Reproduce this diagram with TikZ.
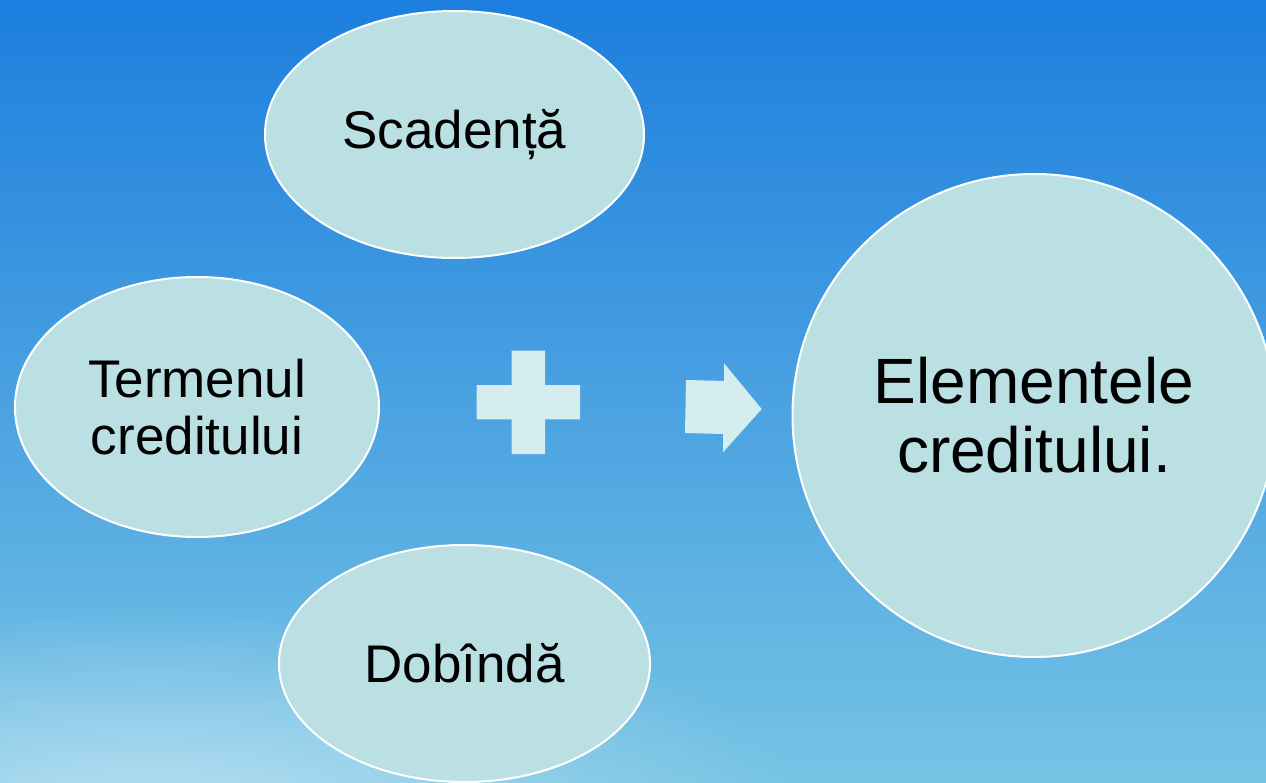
\documentclass[tikz,border=0pt]{standalone}
\usepackage{fontspec}
\setmainfont{Liberation Sans}
\usetikzlibrary{shapes.geometric,fadings}

\definecolor{bubble}{RGB}{186,224,227}
\definecolor{signfill}{RGB}{214,237,239}
\definecolor{skytop}{RGB}{28,126,222}
\definecolor{skymid}{RGB}{58,156,220}
\definecolor{skybottom}{RGB}{118,196,228}
\tikzfading[name=haze, inner color=transparent!0, outer color=transparent!100]

\begin{document}
\begin{tikzpicture}[x=1pt,y=-1pt]
	\useasboundingbox (0,0) rectangle (1266,783);
	\shade[top color=skytop, middle color=skymid, bottom color=skybottom] (0,0) rectangle (1266,783);
	\fill[white, fill opacity=0.45, path fading=haze] (150,800) ellipse (650 and 200);
	\begin{scope}[every node/.style={ellipse,draw=white,line width=2pt,fill=bubble,inner sep=0pt,align=center,font=\fontsize{53}{57}\selectfont}]
		\node[minimum width=379pt, minimum height=247pt] (Scadenta) at (454.5,134.5) {Scadență};
		\node[minimum width=364pt, minimum height=260pt] (Termenul) at (197,407) {Termenul\\creditului};
		\node[minimum width=371pt, minimum height=237pt] (Dobinda) at (464.5,663.5) {Dobîndă};
		\node[circle, minimum size=483pt, font=\fontsize{64}{69}\selectfont] (Elementele) at (1034,415.5) {Elementele\\creditului.};
	\end{scope}
	\fill[signfill] (511.7,350.7) -- (545,350.7) -- (545,385) -- (580,385) -- (580,419.3) -- (545,419.3)
		-- (545,454) -- (511.7,454) -- (511.7,419.3) -- (476.7,419.3) -- (476.7,385) -- (511.7,385) -- cycle;
	\fill[signfill] (686,380) -- (724,381) -- (724,363.3) -- (761.7,409) -- (723,452.3) -- (723,434) -- (685,433) -- cycle;
\end{tikzpicture}
\end{document}
